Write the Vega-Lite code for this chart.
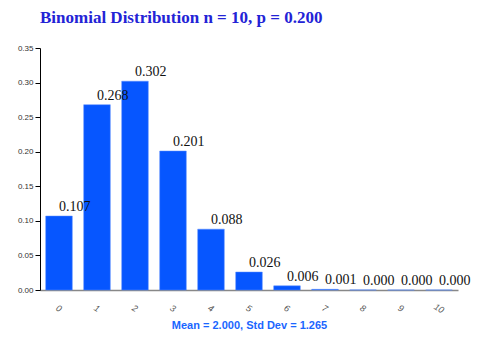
{
  "$schema": "https://vega.github.io/schema/vega-lite/v6.json",
  "autosize": "none",
  "width": 418,
  "height": 242,
  "padding": {"left": 40, "top": 48, "right": 42, "bottom": 60},
  "background": "white",
  "title": {
    "text": "Binomial Distribution n = 10, p = 0.200",
    "font": "Liberation Serif",
    "fontSize": 17,
    "fontWeight": "bold",
    "color": "#2323d6",
    "anchor": "start",
    "frame": "group",
    "dx": 0,
    "offset": 17
  },
  "data": {
    "values": [
      {"k": "0", "p": 0.107},
      {"k": "1", "p": 0.268},
      {"k": "2", "p": 0.302},
      {"k": "3", "p": 0.201},
      {"k": "4", "p": 0.088},
      {"k": "5", "p": 0.026},
      {"k": "6", "p": 0.006},
      {"k": "7", "p": 0.001},
      {"k": "8", "p": 0.0001},
      {"k": "9", "p": 0.0000},
      {"k": "10", "p": 0.0000}
    ]
  },
  "encoding": {
    "x": {
      "field": "k",
      "type": "ordinal",
      "sort": null,
      "scale": {"paddingInner": 0.3, "paddingOuter": 0.15},
      "axis": {
        "title": "Mean = 2.000, Std Dev = 1.265",
        "titleFont": "Liberation Sans",
        "titleFontSize": 11,
        "titleFontWeight": "bold",
        "titleColor": "#1a66ff",
        "titlePadding": 5,
        "labelAngle": 30,
        "labelFont": "Liberation Sans",
        "labelFontSize": 9,
        "labelFontStyle": "italic",
        "labelColor": "#555555",
        "labelPadding": 18,
        "labelAlign": "center",
        "labelBaseline": "middle",
        "ticks": false,
        "domainColor": "#888888",
        "domainWidth": 1.5,
        "grid": false
      }
    },
    "y": {
      "field": "p",
      "type": "quantitative",
      "scale": {"domain": [0, 0.35], "nice": false},
      "axis": {
        "title": null,
        "values": [0, 0.05, 0.1, 0.15, 0.2, 0.25, 0.3, 0.35],
        "format": ".2f",
        "labelFont": "Liberation Sans",
        "labelFontSize": 8,
        "labelColor": "#333333",
        "domainColor": "#000000",
        "tickColor": "#000000",
        "tickSize": 5,
        "grid": false
      }
    }
  },
  "layer": [
    {
      "mark": {"type": "bar", "color": "#0656ff", "stroke": "#5a8cff", "strokeWidth": 0.5}
    },
    {
      "mark": {
        "type": "text",
        "align": "left",
        "baseline": "bottom",
        "dy": -2,
        "font": "Liberation Serif",
        "fontSize": 14,
        "color": "#111111"
      },
      "encoding": {
        "text": {"field": "p", "type": "quantitative", "format": ".3f"}
      }
    }
  ],
  "config": {"view": {"stroke": null}}
}
